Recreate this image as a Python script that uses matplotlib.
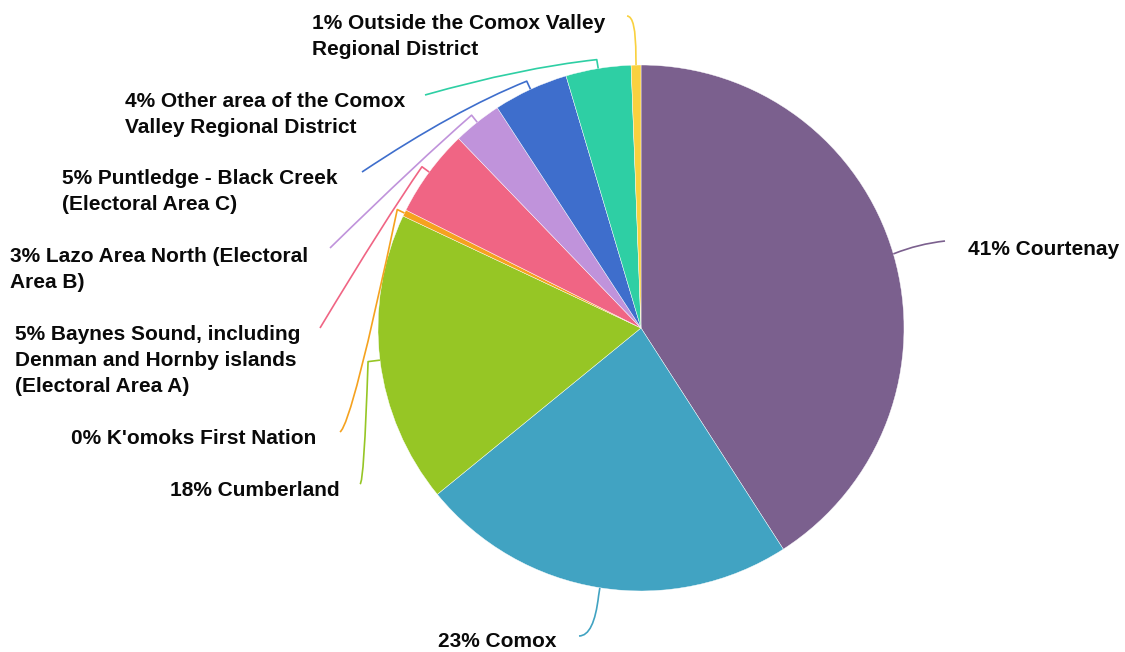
"""Pie chart of respondents by area of residence, Comox Valley."""

import matplotlib

matplotlib.use("Agg")
import matplotlib.pyplot as plt
import numpy as np
from matplotlib.patches import PathPatch
from matplotlib.path import Path

plt.rcParams.update(
    {
        "font.family": ["Liberation Sans", "DejaVu Sans"],
        "font.weight": "bold",
        "font.size": 15,
    }
)

# Data
areas = [
    "Courtenay",
    "Comox",
    "Cumberland",
    "K'omoks First Nation",
    "Baynes Sound, including\nDenman and Hornby islands\n(Electoral Area A)",
    "Lazo Area North (Electoral\nArea B)",
    "Puntledge - Black Creek\n(Electoral Area C)",
    "Other area of the Comox\nValley Regional District",
    "Outside the Comox Valley\nRegional District",
]
shares = [40.9, 23.2, 17.9, 0.4, 5.4, 3.0, 4.6, 4.0, 0.6]
colors = [
    "#7B608E",
    "#41A3C2",
    "#96C625",
    "#F5A21F",
    "#F06584",
    "#C093DB",
    "#3E6ECC",
    "#2ECFA4",
    "#F9D13F",
]

W, H = 1125, 652
CX, CY, R = 641, 328, 263  # pixel coordinates (y down)

# Label layout in pixels: (stub, line end, bend control, text x, first line centre y, ha)
layout = [
    (1, (945, 241), (918, 244), 968, 248, "left"),
    (8, (579, 636), (594, 636), 497, 640, "center"),
    (12, (360, 484), (364, 484), 340, 489, "right"),
    (8, (340, 432), (352, 424), 316, 437, "right"),
    (9, (320, 328), (385, 220), 300, 333, "right"),
    (9, (330, 248), (420, 160), 308, 255, "right"),
    (9, (362, 172), (455, 110), 338, 177, "right"),
    (9, (425, 95), (520, 68), 405, 100, "right"),
    (9, (627, 16), (636, 16), 605, 22, "right"),
]


def to_data(x, y):
    return x, H - y


fig = plt.figure(figsize=(W / 100, H / 100), dpi=100)
ax = fig.add_axes([0, 0, 1, 1])

wedges, _ = ax.pie(
    shares,
    colors=colors,
    startangle=90,
    counterclock=False,
    center=to_data(CX, CY),
    radius=R,
    wedgeprops={"edgecolor": "white", "linewidth": 0.3},
)

for wedge, name, share, color, (stub_len, end, ctrl, tx, ty, ha) in zip(
    wedges, areas, shares, colors, layout
):
    mid = np.deg2rad((wedge.theta1 + wedge.theta2) / 2)
    edge = (CX + R * np.cos(mid), CY - R * np.sin(mid))
    stub = (CX + (R + stub_len) * np.cos(mid), CY - (R + stub_len) * np.sin(mid))
    verts = [to_data(*edge), to_data(*stub), to_data(*ctrl), to_data(*end)]
    codes = [Path.MOVETO, Path.LINETO, Path.CURVE3, Path.CURVE3]
    ax.add_patch(
        PathPatch(
            Path(verts, codes),
            facecolor="none",
            edgecolor=color,
            linewidth=1.2,
            joinstyle="round",
        )
    )

    ax.text(
        tx,
        H - ty + 8,
        f"{share:.0f}% {name}",
        ha=ha,
        va="top",
        multialignment="left",
        linespacing=1.48,
        color="#0a0a0a",
    )

ax.set_xlim(0, W)
ax.set_ylim(0, H)
ax.set_aspect("equal")
ax.axis("off")

fig.savefig("out.png", dpi=100)
plt.close(fig)
